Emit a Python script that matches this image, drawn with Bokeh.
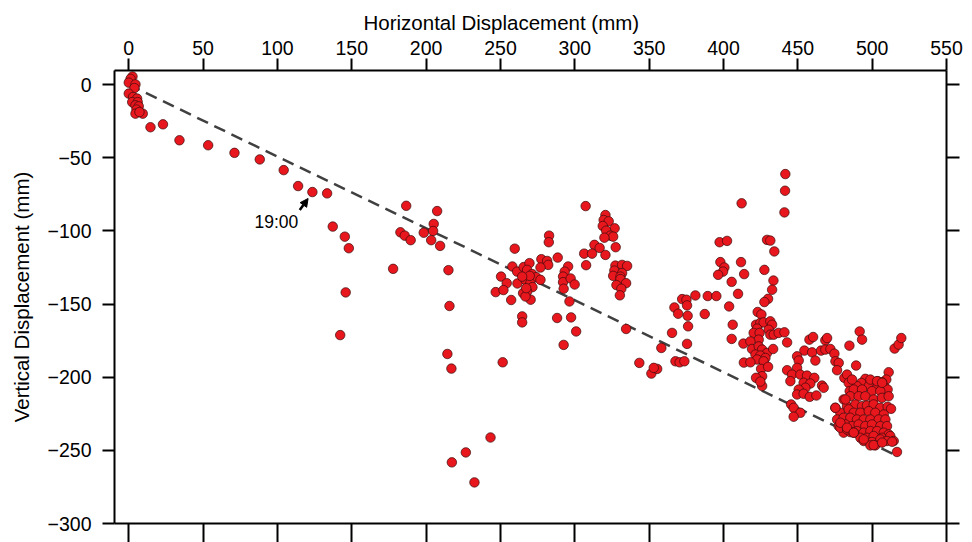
from bokeh.plotting import figure
from bokeh.models import Range1d, LinearAxis, FixedTicker, CustomJSTickFormatter, Label, Arrow, NormalHead, Title
from bokeh.embed import file_html
from bokeh.resources import INLINE

# ---- data (mm) ----
start_x = [2.5, 1.2, 0, 4.5, 3.8, 0, 2.9, 5.6, 2.3, 6, 4.5, 6.7, 5.2, 4.5, 9.4, 7.2,
           14.6, 23, 34.1, 53.4, 71.1, 88.1, 104.2, 113.9, 123.5, 133.4, 137.2, 145.3, 148, 145.9, 142.2]
start_y = [5.6, 4, 1.4, 0.2, -2.3, -6.1, -8.4, -9.5, -11.9, -11.9, -14.1, -14.8, -17, -19.8, -19.8, -18.7,
           -29.1, -27.1, -38, -41.4, -46.6, -51.1, -58.4, -69.3, -73.4, -74.3, -97, -103.9, -111.8, -142, -171.2]

g2_x = [186.6, 207.4, 205.1, 182.7, 185.6, 189.6, 198.4, 204.7, 203.4, 209.4, 177.8, 215.0, 215.7, 214.3,
        217.0, 217.3, 226.7, 232.5, 243.3, 251.5]
g2_y = [-82.8, -86.4, -95.2, -100.9, -103.2, -106.3, -101.2, -100.0, -106.3, -110.2, -125.9, -126.8, -151.3,
        -184.1, -194.1, -258.2, -251.4, -271.9, -241.2, -189.8]

g3_x = [259.6, 258.0, 250.4, 254.2, 246.8, 252.0, 257.2, 261.4, 261.2, 265.6, 269.5, 267.9, 271.3, 274.0,
        276.9, 266.8, 270.1, 271.5, 267.9, 265.2, 270.3, 266.8, 269.7, 264.6, 267.3, 282.7, 282.5, 277.5,
        281.4, 282.1, 276.9, 288.5, 264.6, 264.6, 288.1, 297.5, 300.9, 292.5, 296.4, 295.5, 293.2, 292.1,
        292.1, 292.5, 297.2, 299.9]
g3_y = [-112.1, -124.3, -131.2, -135.7, -141.8, -140.4, -147.2, -135.9, -127.8, -124.7, -122.0, -126.6,
        -129.5, -131.6, -133.4, -133.4, -135.7, -138.4, -141.4, -142.5, -147.0, -144.8, -130.7, -131.2,
        -139.1, -103.2, -107.7, -119.3, -120.5, -123.2, -125.0, -118.2, -158.4, -162.5, -159.5, -159.1,
        -168.7, -177.9, -148.2, -124.3, -127.8, -131.2, -135.0, -139.5, -132.5, -136.6]

g4_x = [307.3, 320.6, 319.4, 322.8, 318.8, 326.8, 321.1, 323.9, 325.8, 319.9, 327.5, 313.2, 316.7, 306.3,
        311.6, 320.6, 307.6, 327.3, 331.8, 335.2, 326.6, 331.8, 325.8, 330.7, 330.7, 334.5, 328.0, 331.3,
        330.3, 334.5, 343.4, 351.5, 355.4, 353.1, 358.2, 365.4, 367.7, 370.5, 373.7, 375.5, 376.2, 375.9,
        367.0, 369.5, 372.2, 375.1, 375.5, 381.1, 387.4, 389.4, 395.2]
g4_y = [-83.0, -89.1, -92.5, -93.4, -96.6, -98.2, -99.8, -103.2, -103.9, -104.6, -111.1, -109.5, -111.6,
        -115.5, -115.5, -116.4, -123.4, -123.7, -123.2, -123.9, -127.1, -128.8, -130.7, -131.2, -132.9,
        -135.7, -137.0, -139.5, -144.0, -167.0, -190.2, -197.5, -194.3, -193.6, -180.0, -169.7, -189.1,
        -189.8, -189.1, -177.2, -165.2, -158.0, -152.3, -156.6, -146.6, -147.0, -150.9, -144.1, -156.8,
        -144.5, -144.5]

g5_x = [397.4, 402.4, 397.9, 400.6, 399.7, 396.4, 411.8, 413.9, 405.5, 409.8, 403.8, 406.2, 405.5, 413.4,
        413.7, 412.2, 441.6, 441.4, 441.0, 429.3, 431.5, 434.2, 427.5, 433.6, 432.7, 430.0, 427.5, 423.0, 425.5]
g5_y = [-107.7, -106.8, -121.3, -125.0, -127.8, -130.0, -121.3, -129.5, -134.8, -143.0, -151.6, -164.1,
        -173.8, -177.0, -190.0, -81.1, -61.1, -72.5, -87.3, -106.1, -106.6, -114.0, -126.6, -133.9, -140.2,
        -146.4, -148.6, -155.4, -157.1]

g6_x = [421.9, 424.8, 427.0, 431.5, 432.7, 422.6, 420.3, 430.4, 424.3, 431.5, 433.8, 437.1, 441.0, 423.7,
        418.1, 419.2, 423.7, 426.0, 429.3, 433.4, 421.5, 424.8, 428.2, 422.6, 418.1, 427.0, 425.3, 430.0,
        426.0, 421.9, 426.0, 442.8, 424.8]
g6_y = [-164.1, -162.9, -162.5, -161.8, -164.1, -166.8, -169.7, -167.5, -169.7, -170.9, -170.9, -169.7,
        -169.3, -174.3, -175.5, -180.7, -178.9, -181.1, -183.4, -180.7, -184.5, -185.2, -186.8, -187.9,
        -189.8, -189.1, -194.3, -192.9, -199.3, -200.4, -206.0, -176.2, -203.0]

g7_x = [457.8, 460.3, 468.5, 469.7, 454.4, 459.6, 465.6, 468.5, 471.9, 474.6, 449.5, 450.6, 461.8, 449.5,
        442.8, 446.1, 451.7, 456.2, 461.1, 445.0, 453.9, 458.4, 466.3, 455.1, 450.6, 467.4, 449.5, 453.9,
        458.0, 462.5, 445.5, 447.2, 451.7, 447.2, 475.3, 477.5, 476.4, 481.3, 483.1, 484.2, 489.2, 484.7,
        491.6, 493.2, 515.1, 517.8, 519.6]
g7_y = [-174.3, -172.5, -174.8, -173.2, -181.8, -183.0, -181.8, -181.1, -180.7, -183.9, -185.7, -188.6,
        -188.6, -193.6, -195.2, -198.2, -198.2, -198.9, -200.4, -202.7, -203.8, -204.3, -205.7, -207.2,
        -208.4, -207.2, -211.8, -211.3, -213.4, -212.5, -218.6, -220.9, -224.3, -227.0, -189.1, -190.2,
        -195.2, -200.4, -198.2, -203.8, -192.0, -178.4, -168.7, -174.3, -180.4, -177.7, -173.2]

g8_x = [511.1, 509.5, 503.7, 500.6, 506.6, 495.4, 492.7, 489.8, 497.7, 503.3, 508.9, 510.4, 484.9, 487.6,
        493.2, 499.9, 505.5, 480.8, 485.3, 490.9, 495.4, 501.0, 506.6, 511.1, 483.1, 488.7, 493.2, 496.5,
        501.0, 505.5, 510.4, 512.7, 475.2, 478.6, 484.2, 487.6, 492.1, 497.7, 502.1, 507.8, 476.4, 480.8,
        485.3, 489.8, 494.3, 498.8, 504.4, 508.9, 477.5, 482.0, 486.5, 490.9, 495.4, 499.9, 505.5, 510.0,
        480.8, 485.3, 489.8, 494.3, 498.8, 503.3, 507.8, 511.1, 492.1, 496.5, 501.0, 506.6, 512.2, 494.3,
        499.9, 505.5, 510.0, 514.5, 498.8, 502.1, 516.7, 487.6, 478.6, 483.1,
        475.3, 478.6, 483.1, 487.6, 494.3, 501.0, 506.7, 513.4, 486.5, 482.0, 498.8, 503.3, 506.7]
g8_y = [-196.6, -201.6, -202.7, -203.4, -203.4, -201.1, -203.9, -206.1, -206.1, -207.3, -207.3, -208.4,
        -209.5, -208.4, -208.4, -209.5, -209.5, -215.2, -213.0, -213.0, -213.0, -215.2, -214.1, -213.0,
        -219.8, -218.6, -219.8, -219.3, -218.6, -220.9, -220.2, -221.6, -220.9, -224.3, -222.0, -224.3,
        -224.3, -223.2, -224.3, -225.5, -228.9, -227.7, -227.7, -228.9, -228.9, -228.9, -228.9, -228.9,
        -233.4, -232.3, -233.4, -232.3, -233.4, -232.3, -233.4, -233.4, -237.9, -237.5, -236.8, -237.9,
        -236.8, -236.8, -237.9, -239.1, -241.4, -241.4, -240.2, -241.4, -240.2, -243.6, -244.3, -242.5,
        -243.6, -243.6, -246.6, -246.6, -251.1, -237.9, -234.5, -235.7,
        -220.9, -231.1, -234.5, -237.9, -242.5, -246.4, -244.7, -244.1, -201.6, -215.2, -201.6, -202.7, -203.8]

trend_x = [0, 515]
trend_y = [0, -253]

x_ticks = [0, 50, 100, 150, 200, 250, 300, 350, 400, 450, 500, 550]
y_ticks = [0, -50, -100, -150, -200, -250, -300]

note_text = "19:00"
note_pos = (99.3, -93.7)
arrow_from = (115.0, -85.7)
arrow_to = (120.6, -77.8)

x_title = "Horizontal Displacement (mm)"
y_title = "Vertical Displacement (mm)"

# ---- figure ----
FONT = "Liberation Sans"
xs = start_x + g2_x + g3_x + g4_x + g5_x + g6_x + g7_x + g8_x
ys = start_y + g2_y + g3_y + g4_y + g5_y + g6_y + g7_y + g8_y

p = figure(width=972, height=542, output_backend="svg", toolbar_location=None,
           x_range=Range1d(-9.6, 550), y_range=Range1d(-300, 9.7),
           x_axis_location="above", min_border_left=114, min_border_right=26,
           min_border_top=70, min_border_bottom=19)
p.outline_line_color = None
p.xgrid.grid_line_color = None
p.ygrid.grid_line_color = None
p.background_fill_color = "white"
p.border_fill_color = "white"

blank = CustomJSTickFormatter(code="return ''")
p.add_layout(LinearAxis(formatter=blank), "below")
p.add_layout(LinearAxis(formatter=blank), "right")

for ax in p.xaxis:
    ax.ticker = FixedTicker(ticks=x_ticks)
for ax in p.yaxis:
    ax.ticker = FixedTicker(ticks=y_ticks)
p.yaxis[0].major_label_overrides = {t: str(t).replace("-", "\u2212") for t in y_ticks}

for ax in p.xaxis + p.yaxis:
    ax.axis_line_width = 2
    ax.axis_line_color = "black"
    ax.major_tick_line_width = 2
    ax.major_tick_line_color = "black"
    ax.major_tick_in = 0
    ax.major_tick_out = 12
    ax.minor_tick_line_color = None
    ax.major_label_text_font = FONT
    ax.major_label_text_font_size = "19.5px"
    ax.major_label_text_color = "black"
    ax.axis_label_text_font = FONT
    ax.axis_label_text_font_style = "normal"
    ax.axis_label_text_color = "black"

p.xaxis[0].major_label_standoff = 4
p.yaxis[0].axis_label = y_title
p.yaxis[0].axis_label_text_font_size = "20.5px"
p.yaxis[0].major_label_standoff = 11
p.yaxis[0].axis_label_standoff = 12
p.xaxis[1].major_tick_out = 19
p.xaxis[1].major_label_standoff = 0
p.yaxis[1].major_tick_out = 13
p.yaxis[1].major_label_standoff = 0

# top axis title, placed left of centre as in the source figure
p.add_layout(Title(text=x_title, align="left", offset=249, standoff=8,
                   text_font=FONT, text_font_size="20.5px", text_font_style="normal",
                   text_color="black"), "above")

p.line(trend_x, trend_y, line_color="#404040", line_width=2.5, line_dash="12 7")
p.scatter(xs, ys, size=9.5, fill_color="#e8161d", line_color="#3a0c0c", line_width=0.7)

p.add_layout(Arrow(end=NormalHead(size=8, fill_color="black", line_color="black"),
                   line_color="black", line_width=2.5,
                   x_start=arrow_from[0], y_start=arrow_from[1], x_end=arrow_to[0], y_end=arrow_to[1]))
p.add_layout(Label(x=note_pos[0], y=note_pos[1], text=note_text, text_align="center",
                   text_baseline="middle", text_font=FONT, text_font_size="17.5px", text_color="black"))

open("out.html", "w").write(file_html(p, INLINE))
